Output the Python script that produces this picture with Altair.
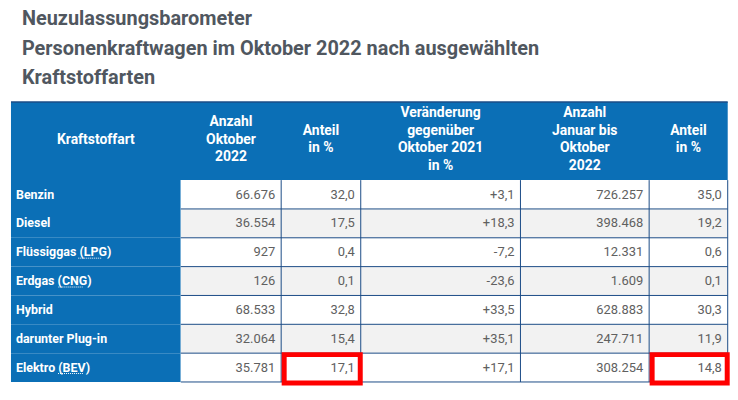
import altair as alt
import pandas as pd

# ---------------- data ----------------
title_lines = [
    "Neuzulassungsbarometer",
    "Personenkraftwagen im Oktober 2022 nach ausgewählten",
    "Kraftstoffarten",
]
headers = [
    "Kraftstoffart",
    "Anzahl\nOktober\n2022",
    "Anteil\nin %",
    "Veränderung\ngegenüber\nOktober 2021\nin %",
    "Anzahl\nJanuar bis\nOktober\n2022",
    "Anteil\nin %",
]
kraftstoff = ["Benzin", "Diesel", "Flüssiggas (LPG)", "Erdgas (CNG)",
              "Hybrid", "darunter Plug-in", "Elektro (BEV)"]
anzahl_okt = [66676, 36554, 927, 126, 68533, 32064, 35781]
anteil_okt = [32.0, 17.5, 0.4, 0.1, 32.8, 15.4, 17.1]
veraenderung = [3.1, 18.3, -7.2, -23.6, 33.5, 35.1, 17.1]
anzahl_jan_okt = [726257, 398468, 12331, 1609, 628883, 247711, 308254]
anteil_jan_okt = [35.0, 19.2, 0.6, 0.1, 30.3, 11.9, 14.8]
highlight_cells = [("Elektro (BEV)", 2), ("Elektro (BEV)", 5)]
abbreviated = ["Flüssiggas (LPG)", "Erdgas (CNG)", "Elektro (BEV)"]


def fmt_int(v):
    return f"{v:,}".replace(",", ".")


def fmt_dec(v):
    return f"{v:.1f}".replace(".", ",")


def fmt_chg(v):
    return f"{v:+.1f}".replace(".", ",")


columns = [
    [fmt_int(v) for v in anzahl_okt],
    [fmt_dec(v) for v in anteil_okt],
    [fmt_chg(v) for v in veraenderung],
    [fmt_int(v) for v in anzahl_jan_okt],
    [fmt_dec(v) for v in anteil_jan_okt],
]

# ---------------- layout (page pixels) ----------------
W, H = 726, 378
X0, Y0 = 8, 8
col_edges = [11, 181.7, 282.7, 362.7, 523.3, 652.7, 731.7]
header_top, header_bottom = 98.5, 177
row_h = 29
title_x = 22
title_baselines = [21, 51, 80.5]
head_lh = 17.5
label_pad = 5
# dotted abbreviation underline: (start, end) offsets from label start
abbr_offsets = [(62.7, 86.3), (42.7, 67.3), (42.3, 67.3)]
abbr_dy = 6

BLUE = "#0b6fb6"
LINE = "#1b4c86"
GRAY_BG = "#f2f2f2"
TEXT_GRAY = "#606060"
TITLE_GRAY = "#50575f"
RED = "#ff0000"

XS = alt.Scale(domain=[X0, X0 + W], nice=False, zero=False)
YS = alt.Scale(domain=[Y0, Y0 + H], nice=False, zero=False, reverse=True)

# rectangles
rects = [dict(x=col_edges[0], x2=col_edges[-1], y=header_top, y2=header_bottom, fill=BLUE)]
for r in range(len(kraftstoff)):
    y0 = header_bottom + r * row_h
    for c in range(6):
        if c == 0:
            fill = BLUE
        else:
            fill = GRAY_BG if r % 2 == 1 else "#ffffff"
        rects.append(dict(x=col_edges[c], x2=col_edges[c + 1], y=y0, y2=y0 + row_h, fill=fill))
rect_df = pd.DataFrame(rects)

body_bottom = header_bottom + len(kraftstoff) * row_h
rules = []
for r in range(1, len(kraftstoff) + 1):
    y = header_bottom + r * row_h
    rules.append(dict(x=col_edges[1], x2=col_edges[-1], y=y, y2=y, w=1))
for c in range(2, 7):
    rules.append(dict(x=col_edges[c], x2=col_edges[c], y=header_bottom, y2=body_bottom, w=1))
rules.append(dict(x=col_edges[0], x2=col_edges[-1], y=header_top, y2=header_top, w=1.5))
rule_df = pd.DataFrame(rules)

dots = []
for name, (a, b) in zip(abbreviated, abbr_offsets):
    r = kraftstoff.index(name)
    y = header_bottom + r * row_h + row_h / 2 + abbr_dy
    x = col_edges[0] + label_pad
    dots.append(dict(x=x + a, x2=x + b, y=y, y2=y))
dot_df = pd.DataFrame(dots)

# texts
label_rows = []
num_rows = []
for r, name in enumerate(kraftstoff):
    yc = header_bottom + r * row_h + row_h / 2
    label_rows.append(dict(x=col_edges[0] + label_pad, y=yc, t=name))
    for c in range(5):
        num_rows.append(dict(x=col_edges[c + 2] - 6, y=yc, t=columns[c][r]))
label_df = pd.DataFrame(label_rows)
num_df = pd.DataFrame(num_rows)

head_rows = []
for c, h in enumerate(headers):
    n = h.count("\n") + 1
    yc = (header_top + header_bottom) / 2 - 1.5
    head_rows.append(dict(x=(col_edges[c] + col_edges[c + 1]) / 2,
                          y=yc - (n - 1) * head_lh / 2, t=h))
head_df = pd.DataFrame(head_rows)
title_df = pd.DataFrame([dict(x=title_x, y=b, t=t) for t, b in zip(title_lines, title_baselines)])

boxes = []
for name, c in highlight_cells:
    r = kraftstoff.index(name)
    y0 = header_bottom + r * row_h
    boxes.append(dict(x=col_edges[c] + 3, x2=col_edges[c + 1] - 0.5, y=y0 + 1.5, y2=y0 + row_h + 1))
box_df = pd.DataFrame(boxes)


def xy(extra2=True):
    enc = dict(x=alt.X("x:Q", scale=XS, axis=None), y=alt.Y("y:Q", scale=YS, axis=None))
    if extra2:
        enc["x2"] = alt.X2("x2:Q")
        enc["y2"] = alt.Y2("y2:Q")
    return enc


rect_layer = alt.Chart(rect_df).mark_rect(strokeWidth=0).encode(
    fill=alt.Fill("fill:N", scale=None), **xy())
rule_layer = alt.Chart(rule_df).mark_rule(color=LINE).encode(
    strokeWidth=alt.StrokeWidth("w:Q", scale=None), **xy())
dot_layer = alt.Chart(dot_df).mark_rule(color="white", strokeWidth=1, strokeDash=[1, 1]).encode(**xy())
title_layer = alt.Chart(title_df).mark_text(
    align="left", baseline="alphabetic", font="Roboto", fontSize=20, fontWeight="bold",
    color=TITLE_GRAY).encode(text="t:N", **xy(False))
head_layer = alt.Chart(head_df).mark_text(
    align="center", baseline="middle", font="Roboto", fontSize=14, fontWeight="bold",
    color="white", lineBreak="\n", lineHeight=head_lh).encode(text="t:N", **xy(False))
label_layer = alt.Chart(label_df).mark_text(
    align="left", baseline="middle", font="Roboto", fontSize=12.5, fontWeight="bold",
    color="white").encode(text="t:N", **xy(False))
num_layer = alt.Chart(num_df).mark_text(
    align="right", baseline="middle", font="Roboto", fontSize=13,
    color=TEXT_GRAY).encode(text="t:N", **xy(False))
box_layer = alt.Chart(box_df).mark_rect(
    fillOpacity=0, stroke=RED, strokeWidth=5).encode(**xy())

chart = alt.layer(
    rect_layer, rule_layer, dot_layer, title_layer, head_layer, label_layer, num_layer, box_layer
).properties(width=W, height=H, padding=0, background="white").configure_view(strokeWidth=0)

chart.save("out.html", embed_options={"renderer": "svg", "actions": False})
